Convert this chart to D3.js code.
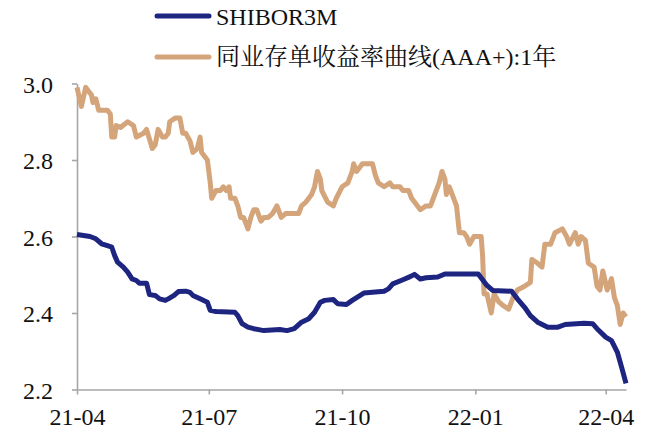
<!DOCTYPE html>
<html>
<head>
<meta charset="utf-8">
<script src="https://cdn.jsdelivr.net/npm/d3@7"></script>
<style>
  html, body { margin: 0; padding: 0; background: #fff; }
  svg { display: block; }
  text { font-family: "Liberation Serif", "Times New Roman", "Noto Serif CJK SC", "Noto Sans CJK SC", serif; fill: #111; }
</style>
</head>
<body>
<svg id="chart" width="651" height="429"></svg>
<script>
const seriesNames = ["SHIBOR3M", "同业存单收益率曲线(AAA+):1年"];
const seriesColors = ["#1d2580", "#d4a47a"];

const shiborDates = ["2021-04-01","2021-04-10","2021-04-14","2021-04-18","2021-04-22","2021-04-25","2021-04-27","2021-04-29","2021-05-03","2021-05-06","2021-05-09","2021-05-12","2021-05-14","2021-05-19","2021-05-21","2021-05-25","2021-05-28","2021-06-01","2021-06-03","2021-06-07","2021-06-10","2021-06-15","2021-06-18","2021-06-20","2021-06-25","2021-06-30","2021-07-02","2021-07-06","2021-07-19","2021-07-21","2021-07-24","2021-07-28","2021-08-01","2021-08-08","2021-08-19","2021-08-24","2021-08-29","2021-09-03","2021-09-08","2021-09-12","2021-09-16","2021-09-19","2021-09-25","2021-09-28","2021-10-04","2021-10-08","2021-10-16","2021-10-30","2021-11-02","2021-11-05","2021-11-12","2021-11-17","2021-11-20","2021-11-24","2021-11-28","2021-12-06","2021-12-11","2022-01-03","2022-01-09","2022-01-13","2022-01-26","2022-01-30","2022-02-04","2022-02-08","2022-02-13","2022-02-20","2022-02-27","2022-03-04","2022-03-17","2022-03-23","2022-03-26","2022-04-01","2022-04-05","2022-04-09","2022-04-12","2022-04-15"];
const shiborValues = [2.605,2.60,2.594,2.581,2.576,2.572,2.55,2.533,2.52,2.507,2.489,2.485,2.478,2.478,2.448,2.446,2.437,2.433,2.437,2.446,2.456,2.457,2.454,2.446,2.437,2.428,2.407,2.404,2.402,2.393,2.372,2.363,2.359,2.354,2.357,2.354,2.359,2.376,2.385,2.402,2.428,2.433,2.435,2.424,2.422,2.433,2.452,2.457,2.463,2.476,2.487,2.495,2.501,2.489,2.492,2.494,2.502,2.502,2.472,2.459,2.457,2.437,2.415,2.393,2.376,2.363,2.363,2.37,2.373,2.372,2.359,2.337,2.328,2.298,2.258,2.216];

const cdDates = ["2021-04-01","2021-04-04","2021-04-07","2021-04-09","2021-04-11","2021-04-12","2021-04-14","2021-04-16","2021-04-22","2021-04-24","2021-04-25","2021-04-27","2021-04-28","2021-05-01","2021-05-06","2021-05-10","2021-05-12","2021-05-17","2021-05-19","2021-05-23","2021-05-25","2021-05-27","2021-05-30","2021-06-01","2021-06-03","2021-06-04","2021-06-08","2021-06-11","2021-06-13","2021-06-15","2021-06-18","2021-06-20","2021-06-23","2021-06-25","2021-06-26","2021-06-28","2021-06-30","2021-07-02","2021-07-03","2021-07-06","2021-07-09","2021-07-11","2021-07-13","2021-07-15","2021-07-16","2021-07-19","2021-07-21","2021-07-23","2021-07-25","2021-07-28","2021-07-30","2021-08-01","2021-08-03","2021-08-06","2021-08-08","2021-08-11","2021-08-14","2021-08-17","2021-08-20","2021-08-23","2021-08-27","2021-09-01","2021-09-03","2021-09-06","2021-09-10","2021-09-12","2021-09-14","2021-09-16","2021-09-17","2021-09-21","2021-09-25","2021-09-27","2021-10-01","2021-10-05","2021-10-08","2021-10-09","2021-10-11","2021-10-13","2021-10-15","2021-10-18","2021-10-22","2021-10-24","2021-10-26","2021-10-30","2021-11-03","2021-11-05","2021-11-10","2021-11-12","2021-11-16","2021-11-18","2021-11-20","2021-11-24","2021-11-28","2021-12-01","2021-12-03","2021-12-05","2021-12-07","2021-12-09","2021-12-11","2021-12-12","2021-12-14","2021-12-16","2021-12-19","2021-12-21","2021-12-24","2021-12-26","2021-12-28","2021-12-31","2022-01-03","2022-01-05","2022-01-06","2022-01-07","2022-01-09","2022-01-12","2022-01-14","2022-01-17","2022-01-20","2022-01-24","2022-01-27","2022-01-30","2022-02-04","2022-02-08","2022-02-09","2022-02-13","2022-02-16","2022-02-18","2022-02-22","2022-02-25","2022-03-02","2022-03-05","2022-03-07","2022-03-11","2022-03-13","2022-03-15","2022-03-18","2022-03-20","2022-03-24","2022-03-26","2022-03-28","2022-03-30","2022-04-02","2022-04-05","2022-04-07","2022-04-09","2022-04-11","2022-04-13","2022-04-15"];
const cdValues = [2.99,2.94,2.99,2.98,2.97,2.95,2.96,2.93,2.93,2.92,2.86,2.86,2.89,2.885,2.90,2.89,2.86,2.87,2.88,2.83,2.84,2.88,2.86,2.86,2.87,2.90,2.91,2.91,2.87,2.87,2.85,2.82,2.83,2.86,2.82,2.81,2.80,2.74,2.70,2.72,2.72,2.73,2.72,2.73,2.70,2.70,2.68,2.65,2.65,2.62,2.65,2.67,2.67,2.64,2.65,2.65,2.66,2.68,2.65,2.66,2.66,2.66,2.68,2.69,2.71,2.73,2.77,2.75,2.72,2.69,2.68,2.70,2.73,2.74,2.77,2.79,2.77,2.78,2.79,2.79,2.79,2.76,2.74,2.73,2.74,2.73,2.73,2.72,2.72,2.70,2.69,2.67,2.68,2.68,2.70,2.72,2.74,2.77,2.75,2.71,2.73,2.71,2.68,2.61,2.61,2.60,2.58,2.60,2.60,2.60,2.55,2.45,2.45,2.40,2.45,2.43,2.42,2.41,2.44,2.46,2.47,2.48,2.54,2.53,2.52,2.58,2.58,2.61,2.62,2.60,2.58,2.61,2.58,2.60,2.59,2.53,2.52,2.47,2.46,2.51,2.46,2.49,2.44,2.42,2.37,2.40,2.39];

const xTickDates = ["2021-04-01","2021-07-01","2021-10-01","2022-01-01","2022-04-01"];
const xTickLabels = ["21-04","21-07","21-10","22-01","22-04"];
const yTicks = [2.2, 2.4, 2.6, 2.8, 3.0];
const xDomain = ["2021-04-01","2022-04-15"];
const yDomain = [2.2, 3.0];

const parse = d3.timeParse("%Y-%m-%d");
const svg = d3.select("#chart");

const x = d3.scaleTime().domain(xDomain.map(parse)).range([77, 626]);
const y = d3.scaleLinear().domain(yDomain).range([389.5, 83.5]);

const axisColor = "#a6a6a6";

// Y axis
const yAxis = svg.append("g").attr("transform", "translate(77,0)")
  .call(d3.axisLeft(y).tickValues(yTicks).tickFormat(d3.format(".1f")).tickSize(5).tickPadding(19).tickSizeOuter(0));
// X axis
const xTickParsed = xTickDates.map(parse);
const xAxis = svg.append("g").attr("transform", "translate(0,389.5)")
  .call(d3.axisBottom(x).tickValues(xTickParsed)
    .tickFormat((d, i) => xTickLabels[i]).tickSize(5).tickPadding(13).tickSizeOuter(0));

[yAxis, xAxis].forEach(g => {
  g.select(".domain").attr("stroke", axisColor).attr("stroke-width", 1.6);
  g.selectAll(".tick line").attr("stroke", axisColor).attr("stroke-width", 1.6);
  g.selectAll(".tick text").attr("fill", "#111").style("font-size", "24px")
    .style("font-family", '"Liberation Serif", "Times New Roman", serif');
});
yAxis.selectAll(".tick text").attr("dy", "0.36em");

// Lines
const series = [
  { dates: cdDates, values: cdValues, color: seriesColors[1] },
  { dates: shiborDates, values: shiborValues, color: seriesColors[0] }
];
const line = d3.line().x(d => x(d[0])).y(d => y(d[1]));
series.forEach(s => {
  const pts = s.dates.map((d, i) => [parse(d), s.values[i]]);
  svg.append("path").datum(pts)
    .attr("d", line)
    .attr("fill", "none")
    .attr("stroke", s.color)
    .attr("stroke-width", 5)
    .attr("stroke-linejoin", "round")
    .attr("stroke-linecap", "butt");
});

// Legend
const legend = svg.append("g");
const legendRows = [
  { name: seriesNames[0], color: seriesColors[0], ly: 16, ty: 25 },
  { name: seriesNames[1], color: seriesColors[1], ly: 57, ty: 65 }
];
legendRows.forEach(r => {
  legend.append("line").attr("x1", 157).attr("x2", 209).attr("y1", r.ly).attr("y2", r.ly)
    .attr("stroke", r.color).attr("stroke-width", 5).attr("stroke-linecap", "round");
  legend.append("text").attr("x", 216).attr("y", r.ty)
    .style("font-size", "24px").text(r.name);
});
</script>
</body>
</html>
